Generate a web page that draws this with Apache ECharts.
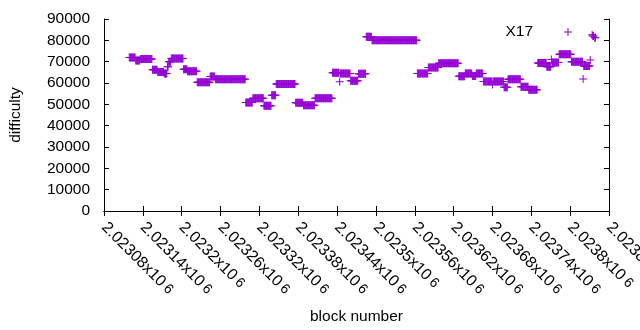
<!DOCTYPE html>
<html>
<head>
<meta charset="utf-8">
<script src="https://cdn.jsdelivr.net/npm/echarts@6/dist/echarts.min.js"></script>
</head>
<body style="margin:0">
<div id="main" style="width:640px;height:330px;"></div>
<script>
var runStart = [2023119, 2023129, 2023136, 2023155, 2023163, 2023173, 2023178, 2023180, 2023184, 2023203,
                2023209, 2023224, 2023244, 2023252, 2023299, 2023310, 2023327, 2023339, 2023346, 2023376,
                2023388, 2023406, 2023433, 2023444, 2023445, 2023461, 2023473, 2023485, 2023494, 2023564,
                2023581, 2023597, 2023628, 2023638, 2023649, 2023655, 2023666, 2023680, 2023681, 2023698,
                2023704, 2023724, 2023736, 2023750, 2023764, 2023771, 2023772, 2023783, 2023802, 2023820,
                2023821, 2023831, 2023834, 2023835, 2023838];
var runEnd   = [2023128, 2023135, 2023154, 2023162, 2023172, 2023177, 2023179, 2023183, 2023202, 2023208,
                2023223, 2023243, 2023251, 2023298, 2023309, 2023326, 2023338, 2023345, 2023375, 2023387,
                2023405, 2023432, 2023443, 2023444, 2023460, 2023472, 2023484, 2023493, 2023563, 2023580,
                2023596, 2023627, 2023637, 2023648, 2023654, 2023665, 2023679, 2023680, 2023697, 2023703,
                2023723, 2023735, 2023749, 2023763, 2023770, 2023771, 2023782, 2023801, 2023819, 2023820,
                2023830, 2023831, 2023834, 2023836, 2023839];
var runValue = [72000, 70600, 71200, 66200, 65100, 64400, 67600, 70000, 71500, 66500,
                65500, 60400, 63000, 61800, 50900, 52800, 49300, 54200, 59500, 50700,
                49600, 52900, 64800, 60600, 64500, 61000, 64300, 81700, 80000, 64500,
                67300, 69300, 63200, 64500, 63300, 64500, 60700, 59300, 60700, 58000,
                61700, 58200, 56800, 69400, 67600, 71000, 69600, 73500, 70000, 61900,
                68000, 70800, 82600, 82000, 81200];

var xMin = 2023080, xMax = 2023860, xStep = 60;
var yMin = 0, yMax = 90000, yStep = 10000;

var points = [];
for (var i = 0; i < runStart.length; i++) {
    for (var b = runStart[i]; b <= runEnd[i]; b++) {
        points.push([b, runValue[i]]);
    }
}

var plus = 'path://M0,3.5H8V4.5H0Z M3.5,0H4.5V8H3.5Z';
var font = 'Liberation Sans';
var black = '#000';

var myChart = echarts.init(document.getElementById('main'));

var option = {
    animation: false,
    textStyle: { fontFamily: font },
    grid: { left: 104, right: 31, top: 19, bottom: 119, containLabel: false, outerBoundsMode: 'none' },
    legend: {
        data: ['X17'],
        right: 68, top: 24, padding: 0,
        align: 'right',
        icon: plus,
        itemWidth: 60, itemHeight: 8,
        textStyle: { fontFamily: font, fontSize: 15.5, color: black }
    },
    xAxis: [{
        type: 'value',
        min: xMin, max: xMax, interval: xStep,
        name: 'block number',
        nameLocation: 'middle', nameGap: 98,
        nameTextStyle: { fontFamily: font, fontSize: 15.5, color: black },
        axisLine: { lineStyle: { color: black } },
        axisTick: { inside: true, length: 5, lineStyle: { color: black } },
        splitLine: { show: false },
        axisLabel: {
            rotate: -45, margin: 14, showMinLabel: true, showMaxLabel: true,
            hideOverlap: false,
            color: black,
            formatter: function (v) {
                var s = parseFloat((v / 1e6).toFixed(5)).toString();
                return '{a|' + s + 'x10} {s|6}';
            },
            rich: {
                a: { fontFamily: font, fontSize: 16, color: black },
                s: { fontFamily: font, fontSize: 14, color: black }
            }
        }
    }, {
        type: 'value', position: 'top',
        min: xMin, max: xMax, interval: xStep,
        axisLine: { lineStyle: { color: black } },
        axisTick: { inside: true, length: 5, lineStyle: { color: black } },
        axisLabel: { show: false },
        splitLine: { show: false }
    }],
    yAxis: [{
        type: 'value',
        min: yMin, max: yMax, interval: yStep,
        name: 'difficulty',
        nameLocation: 'middle', nameGap: 80,
        nameTextStyle: { fontFamily: font, fontSize: 15.5, color: black },
        axisLine: { show: true, lineStyle: { color: black } },
        axisTick: { show: true, inside: true, length: 5, lineStyle: { color: black } },
        splitLine: { show: false },
        axisLabel: {
            margin: 14, fontFamily: font, fontSize: 15.5, color: black,
            formatter: function (v) { return String(v); }
        }
    }, {
        type: 'value', position: 'right',
        min: yMin, max: yMax, interval: yStep,
        axisLine: { show: true, lineStyle: { color: black } },
        axisTick: { show: true, inside: true, length: 5, lineStyle: { color: black } },
        axisLabel: { show: false },
        splitLine: { show: false }
    }],
    series: [{
        name: 'X17',
        type: 'scatter',
        symbol: plus,
        symbolSize: 8,
        itemStyle: { color: '#9400d3', opacity: 1 },
        emphasis: { disabled: true },
        data: points
    }]
};

myChart.setOption(option);
</script>
</body>
</html>
